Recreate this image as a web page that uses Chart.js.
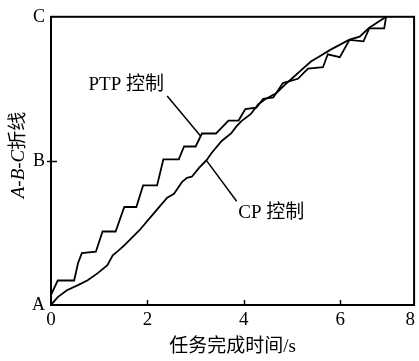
<!DOCTYPE html>
<html>
<head>
<meta charset="utf-8">
<script src="https://cdn.jsdelivr.net/npm/chart.js@4"></script>
<style>
  html, body { margin: 0; padding: 0; background: #fff; }
  canvas { display: block; }
</style>
</head>
<body>
<canvas id="chart" width="419" height="361"></canvas>
<script>
// PTP control (stepped curve), task time (s) vs position along A-B-C polyline
const ptpTime = [0, 0.14, 0.48, 0.56, 0.64, 0.93, 1.07, 1.34, 1.52, 1.77, 1.91, 2.20, 2.33, 2.65, 2.76, 3.00,
  3.13, 3.42, 3.68, 3.89, 4.03, 4.26, 4.40, 4.61, 4.81, 5.12, 5.33, 5.64, 5.74, 5.99, 6.19, 6.48, 6.60, 6.91, 6.95];
const ptpPos = [0.07, 0.17, 0.17, 0.29, 0.36, 0.37, 0.51, 0.51, 0.68, 0.68, 0.83, 0.83, 1.01, 1.01, 1.10, 1.10,
  1.19, 1.19, 1.28, 1.28, 1.36, 1.37, 1.43, 1.44, 1.54, 1.57, 1.64, 1.65, 1.74, 1.72, 1.84, 1.83, 1.92, 1.92, 2.00];

// CP control (smooth curve)
const cpTime = [0, 0.14, 0.33, 0.56, 0.76, 0.97, 1.17, 1.28, 1.38, 1.52, 1.83, 2.18, 2.41, 2.55, 2.72, 2.82, 2.92,
  3.07, 3.23, 3.33, 3.54, 3.74, 3.85, 3.95, 4.14, 4.30, 4.44, 4.67, 4.86, 5.02, 5.16, 5.39, 5.53, 5.80, 6.19, 6.40, 6.60, 6.95];
const cpPos = [0, 0.055, 0.103, 0.138, 0.172, 0.221, 0.276, 0.345, 0.372, 0.414, 0.517, 0.655, 0.745, 0.772, 0.855, 0.883, 0.89,
  0.952, 1.007, 1.055, 1.138, 1.193, 1.241, 1.276, 1.324, 1.393, 1.428, 1.469, 1.531, 1.579, 1.621, 1.69, 1.717, 1.772, 1.841, 1.862, 1.924, 2.0];

// axis ticks
const xTickValues = [0, 2, 4, 6, 7.45];
const xTickLabels = ["0", "2", "4", "6", "8"];
const yTickValues = [0, 1, 2];
const yTickLabels = ["A", "B", "C"];

// leader lines for the two callouts
const ptpLeaderX = [2.41, 3.11];
const ptpLeaderY = [1.45, 1.17];
const cpLeaderX = [3.23, 3.85];
const cpLeaderY = [1.0, 0.72];

const serif = "'Liberation Serif', 'Noto Sans CJK SC', serif";

function toPoints(xs, ys) {
  return xs.map((x, i) => ({ x: x, y: ys[i] }));
}

function lineSet(label, xs, ys, width) {
  return {
    label: label,
    data: toPoints(xs, ys),
    borderColor: "#000",
    borderWidth: width,
    pointRadius: 0,
    tension: 0,
    fill: false,
  };
}

// frame, inward ticks, callout text and the mixed-font y title
const decorPlugin = {
  id: "decor",
  afterDraw(chart) {
    const { ctx, chartArea } = chart;
    const xs = chart.scales.x;
    const ys = chart.scales.y;
    ctx.save();
    ctx.strokeStyle = "#000";
    ctx.lineWidth = 2;
    ctx.strokeRect(chartArea.left, chartArea.top, chartArea.right - chartArea.left, chartArea.bottom - chartArea.top);

    ctx.lineWidth = 1.5;
    [2, 4, 6].forEach((v) => {
      const px = Math.round(xs.getPixelForValue(v)) + 0.5;
      ctx.beginPath();
      ctx.moveTo(px, chartArea.bottom);
      ctx.lineTo(px, chartArea.bottom - 5);
      ctx.stroke();
    });
    const by = Math.round(ys.getPixelForValue(1)) + 0.5;
    ctx.beginPath();
    ctx.moveTo(chartArea.left - 4, by);
    ctx.lineTo(chartArea.left + 6, by);
    ctx.stroke();

    // callouts
    ctx.fillStyle = "#000";
    ctx.font = "19px " + serif;
    ctx.textAlign = "center";
    ctx.textBaseline = "middle";
    ctx.fillText("PTP 控制", xs.getPixelForValue(1.56), ys.getPixelForValue(1.53));
    ctx.fillText("CP 控制", xs.getPixelForValue(4.57), ys.getPixelForValue(0.64));

    // y axis title: italic A-B-C then 折线, rotated
    ctx.translate(19, 155);
    ctx.rotate(-Math.PI / 2);
    const part1 = "A-B-C";
    const part2 = "折线";
    ctx.font = "italic 19px " + serif;
    const w1 = ctx.measureText(part1).width;
    ctx.font = "19px " + serif;
    const w2 = ctx.measureText(part2).width;
    let start = -(w1 + w2) / 2;
    ctx.textAlign = "left";
    ctx.font = "italic 19px " + serif;
    ctx.fillText(part1, start, 0);
    ctx.font = "19px " + serif;
    ctx.fillText(part2, start + w1, 0);
    ctx.restore();
  },
};

new Chart(document.getElementById("chart"), {
  type: "line",
  data: {
    datasets: [
      lineSet("PTP 控制", ptpTime, ptpPos, 1.8),
      lineSet("CP 控制", cpTime, cpPos, 1.8),
      lineSet("ptp-leader", ptpLeaderX, ptpLeaderY, 1.5),
      lineSet("cp-leader", cpLeaderX, cpLeaderY, 1.5),
    ],
  },
  options: {
    responsive: false,
    animation: false,
    layout: { padding: { top: 15, right: 2, left: 0, bottom: 0 } },
    plugins: { legend: { display: false }, tooltip: { enabled: false } },
    scales: {
      x: {
        type: "linear",
        min: 0,
        max: 7.53,
        grid: { display: false, drawTicks: false },
        border: { display: false },
        afterBuildTicks: (scale) => {
          scale.ticks = xTickValues.map((v) => ({ value: v }));
        },
        afterFit: (scale) => {
          scale.height = 56;
        },
        ticks: {
          color: "#000",
          font: { family: serif, size: 19 },
          padding: 4,
          maxRotation: 0,
          autoSkip: false,
          callback: (v, i) => xTickLabels[i],
        },
        title: {
          display: true,
          text: "任务完成时间/s",
          color: "#000",
          font: { family: serif, size: 19 },
          padding: { top: 0, bottom: 3 },
        },
      },
      y: {
        type: "linear",
        min: 0,
        max: 2,
        grid: { display: false, drawTicks: false },
        border: { display: false },
        afterBuildTicks: (scale) => {
          scale.ticks = yTickValues.map((v) => ({ value: v }));
        },
        afterFit: (scale) => {
          scale.width = 51;
        },
        ticks: {
          color: "#000",
          font: { family: serif, size: 18 },
          padding: 6,
          autoSkip: false,
          callback: (v, i) => yTickLabels[i],
        },
      },
    },
  },
  plugins: [decorPlugin],
});
</script>
</body>
</html>
